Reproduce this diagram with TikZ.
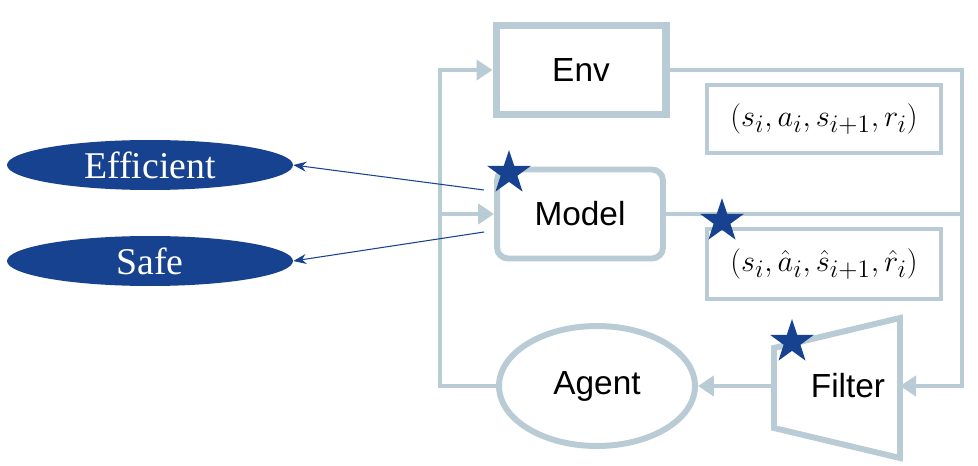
\documentclass[tikz,border=0pt]{standalone}
\usepackage{fontspec}
\setmainfont{Liberation Serif}
\setsansfont{Liberation Sans}
\usepackage{tikz}
\usetikzlibrary{positioning}
\usetikzlibrary{shapes.geometric}
\usetikzlibrary{arrows.meta}
\usetikzlibrary{calc}
\definecolor{paleblue}{HTML}{B9CBD4}
\definecolor{starblue}{HTML}{17428F}

\begin{document}
\begin{tikzpicture}[x=0.02cm,y=-0.02cm,
    block/.style={rectangle, draw=paleblue, line width=4pt, minimum width=3.4cm, minimum height=1.78cm, font=\sffamily\fontsize{19}{22}\selectfont},
    tuple/.style={rectangle, draw=paleblue, line width=2.3pt, minimum width=4.68cm, minimum height=1.36cm, font=\fontsize{19}{22}\selectfont},
    tag/.style={ellipse, fill=starblue, text=white, inner sep=0pt, minimum width=5.72cm, minimum height=1cm, font=\fontsize{21.5}{24}\selectfont},
    mark star/.style={star, star points=5, star point ratio=2.6, fill=starblue, inner sep=0pt, minimum size=0.92cm},
    flow/.style={draw=paleblue, line width=2.8pt, -{Triangle[length=0.32cm, width=0.4cm]}},
    plain/.style={draw=paleblue, line width=2.8pt},
    thinarrow/.style={draw=starblue, line width=0.6pt, -{Stealth[length=0.26cm, width=0.2cm]}}]
    \useasboundingbox (0,0) rectangle (978,466);

    % Define blocks
    \node[block] (env) at (581,70) {Env};
    \node[block, rounded corners=0.22cm, line width=3.4pt, minimum width=3.32cm] (model) at (580,214) {Model};
    \node[ellipse, draw=paleblue, line width=3.4pt, minimum width=3.92cm, minimum height=2.4cm, font=\sffamily\fontsize{19}{22}\selectfont] (agent) at (597,386) {Agent};
    \draw[paleblue, line width=3.4pt, line join=miter] (774,348) -- (900,318) -- (900,458) -- (774,428) -- cycle; % Filter trapezoid
    \node[font=\sffamily\fontsize{19}{22}\selectfont] (filter) at (848,386) {Filter};
    \coordinate (filterL) at (774,386);
    \coordinate (filterR) at (900,386);

    % Transition boxes
    \node[tuple] (real) at (824,119) {$(s_i, a_i, s_{i+1}, r_i)$};
    \node[tuple, minimum height=1.4cm] (fake) at (824,264) {$(s_i, \hat{a}_i, \hat{s}_{i+1}, \hat{r}_i)$};

    % Bus lines
    \coordinate (lb) at (440,386);
    \coordinate (rb) at (962,386);

    % Draw connectors
    \draw[flow] (agent.west) -- (lb) |- (env.west);
    \draw[flow] (lb |- model.west) -- (model.west);
    \draw[flow] (env.east) -| (rb) -- (filterR);
    \draw[plain] (model.east) -- (model.east -| rb);
    \draw[flow] (filterL) -- (agent.east);

    % Properties of the model
    \node[tag] (eff) at (150,165) {Efficient};
    \node[tag] (safe) at (150,261) {Safe};
    \coordinate (m1) at (484,190);
    \coordinate (m2) at (484,232);
    \draw[thinarrow] (m1) -- (eff.east);
    \draw[thinarrow] (m2) -- (safe.east);

    % Stars
    \node[mark star] (s1) at (509,173) {};
    \node[mark star] (s2) at (722,221) {};
    \node[mark star] (s3) at (792,342) {};
\end{tikzpicture}
\end{document}
